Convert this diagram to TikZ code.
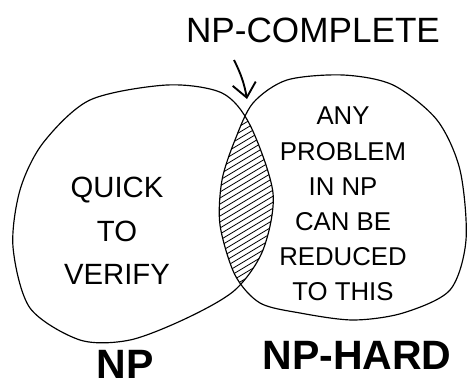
\documentclass[tikz,border=0pt]{standalone}
\usepackage{fontspec}
\setmainfont{Liberation Sans}
\usetikzlibrary{arrows,arrows.meta,positioning}

\newcommand{\npblob}{plot[smooth cycle] coordinates {(167,85) (222,93) (250,125) (273,193) (263,250) (235,290) (187,318) (130,340) (80,340) (30,308) (13,247) (20,190) (43,143) (90,100)}}
\newcommand{\hardblob}{plot[smooth cycle] coordinates {(253,103) (287,80) (343,75) (393,85) (437,120) (460,170) (466,240) (450,290) (403,313) (353,320) (300,313) (260,303) (235,275) (220,225) (222,180) (235,140)}}

\tikzset{
  blob/.style={line width=1pt},
  hatch/.style={line width=0.7pt},
  note/.style={align=center,inner sep=0pt},
  setname/.style={inner sep=0pt,font=\bfseries\fontsize{35}{35}\selectfont},
}

\begin{document}
\begin{tikzpicture}[x=0.3mm,y=-0.3mm]
    \useasboundingbox (0,0) rectangle (467,390);

    % the two sets
    \draw[blob] \npblob;
    \draw[blob] \hardblob;

    % shaded overlap
    \begin{scope}
      \clip \npblob;
      \clip \hardblob;
      \foreach \i in {90,96,...,420} {
        \draw[hatch] (180,\i) -- (310,\i-78);
      }
    \end{scope}

    \node[font=\fontsize{30}{30}\selectfont,inner sep=0pt] (npc) at (313,30) {NP-COMPLETE};
    \coordinate (arrowtail) at (234,60);
    \coordinate (lenstop) at (247,99);
    \draw[-{Straight Barb[length=12pt,width=20pt]},line width=1.6pt] (arrowtail) to[bend left=8] (lenstop);

    \node[note,font=\fontsize{25}{37}\selectfont] (quick) at (117,231) {QUICK\\TO\\VERIFY};
    \node[note,font=\fontsize{22}{30}\selectfont] (anyproblem) at (343,204) {ANY\\PROBLEM\\IN NP\\CAN BE\\REDUCED\\TO THIS};

    \node[setname] (np) at (125,364) {NP};
    \node[setname] (nphard) at (357,355) {NP-HARD};
  \end{tikzpicture}
\end{document}
